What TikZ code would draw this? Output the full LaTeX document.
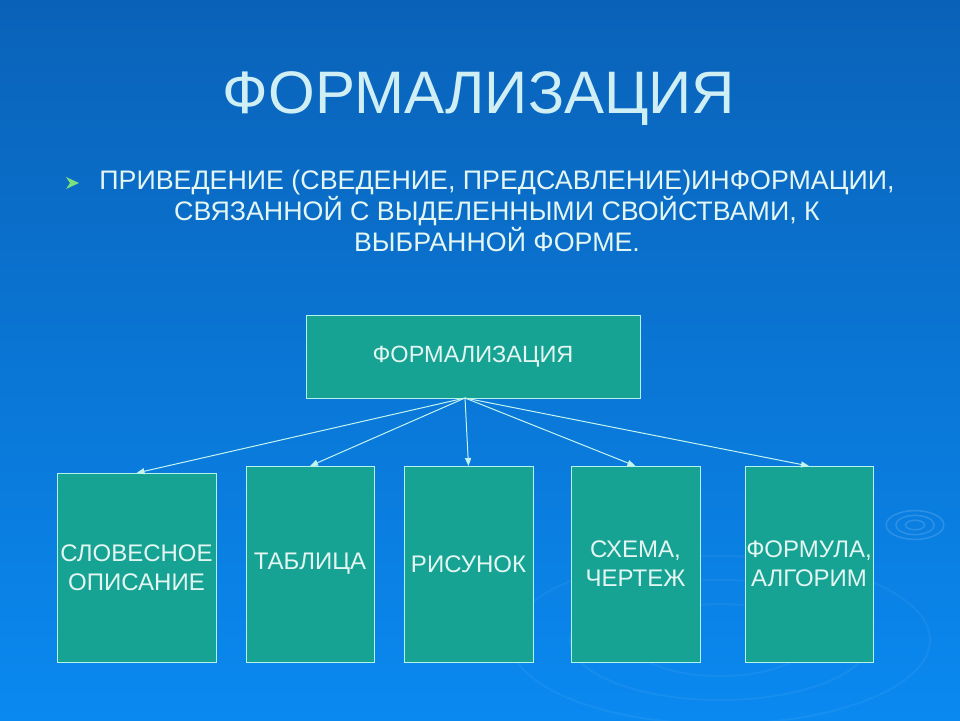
\documentclass[tikz,border=0pt]{standalone}
\usepackage{fontspec}
\setmainfont{Liberation Sans}
\usetikzlibrary{arrows.meta}

\definecolor{bgtop}{HTML}{0A62B8}
\definecolor{bgbot}{HTML}{0A89F0}
\definecolor{boxfill}{HTML}{17A393}
\definecolor{boxline}{HTML}{B4F2EA}
\definecolor{titlecol}{HTML}{CFEFF5}
\definecolor{textcol}{HTML}{E4F6F2}
\definecolor{bulletcol}{HTML}{7CE07C}

\begin{document}
\begin{tikzpicture}[x=1pt,y=-1pt,
    formbox/.style={draw=boxline,line width=1pt,fill=boxfill,inner sep=0pt,outer sep=0pt,
        text=textcol,align=center,font=\fontsize{24}{29}\selectfont},
    fanarrow/.style={draw=boxline!80!white,line width=1pt,-{Triangle[length=8pt,width=6pt]}}]
    % background
    \shade[top color=bgtop,bottom color=bgbot] (0,0) rectangle (960,720);
    \useasboundingbox (0,0) rectangle (960,720);
    % faint ripples
    \foreach \r in {6,12,18} {
        \draw[white,opacity=0.14,line width=1.5pt] (915,525) ellipse ({1.6*\r} and {0.8*\r});
    }
    \foreach \r in {60,100,140} {
        \draw[white,opacity=0.05,line width=2pt] (720,640) ellipse ({1.5*\r} and {0.6*\r});
    }
    % heading
    \node[text=titlecol,font=\fontsize{60}{62}\selectfont] (title) at (479,99) {ФОРМАЛИЗАЦИЯ};
    \fill[bulletcol] (66,177) -- (79,183) -- (66,189) -- (70,183) -- cycle;
    \node[text=textcol,align=center,font=\fontsize{26.8}{26.5}\selectfont] (def) at (497,211)
        {ПРИВЕДЕНИЕ (СВЕДЕНИЕ, ПРЕДСАВЛЕНИЕ)ИНФОРМАЦИИ,\\
         СВЯЗАННОЙ С ВЫДЕЛЕННЫМИ СВОЙСТВАМИ, К\\
         ВЫБРАННОЙ ФОРМЕ.};
    % boxes
    \node[formbox,minimum width=334pt,minimum height=83pt,font=\fontsize{23.5}{26}\selectfont] (top) at (473,356.5) {ФОРМАЛИЗАЦИЯ};
    \node[formbox,minimum width=159pt,minimum height=189pt] (words) at (136.5,567.5) {СЛОВЕСНОЕ\\ОПИСАНИЕ};
    \node[formbox,minimum width=128pt,minimum height=196pt] (table) at (310,564) {ТАБЛИЦА};
    \node[formbox,minimum width=129pt,minimum height=196pt] (picture) at (468.5,564) {РИСУНОК};
    \node[formbox,minimum width=129pt,minimum height=196pt] (scheme) at (635.5,564) {СХЕМА,\\ЧЕРТЕЖ};
    \node[formbox,minimum width=128pt,minimum height=196pt] (formula) at (809,564) {ФОРМУЛА,\\АЛГОРИМ};
    % connectors
    \coordinate (fan) at ([xshift=-8pt]top.south);
    \foreach \b in {words,table,picture,scheme,formula}
        \draw[fanarrow] (fan) -- (\b.north);
\end{tikzpicture}
\end{document}
